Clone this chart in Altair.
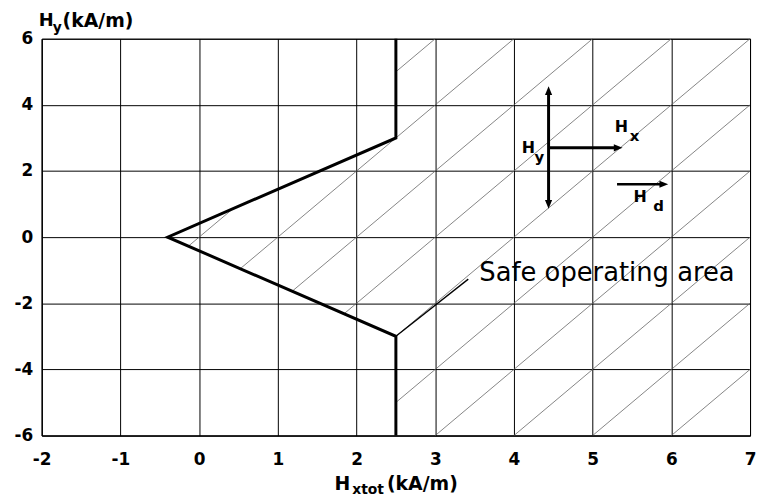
import altair as alt
import numpy as np
import pandas as pd

# ---- data ----
bound_x = [2.5, 2.5, -0.4, 2.5, 2.5]      # boundary of the safe operating area
bound_y = [6, 3, 0, -3, -6]

x_ticks = [-2, -1, 0, 1, 2, 3, 4, 5, 6, 7]
y_ticks = [-6, -4, -2, 0, 2, 4, 6]

# leader line of the "Safe operating area" label
leader_x = [2.5, 3.42]
leader_y = [-3.0, -1.27]

# arrow shafts
shaft_x1 = [4.44, 4.44, 5.31]
shaft_y1 = [1.08, 2.7, 1.6]
shaft_x2 = [4.44, 5.29, 5.87]
shaft_y2 = [4.34, 2.7, 1.6]
shaft_w = [3, 3, 2.5]

# arrow heads (tip positions)
head_x = [4.44, 4.44, 5.38, 5.96]
head_y = [4.56, 0.86, 2.7, 1.6]
head_dir = ["up", "down", "right", "right"]

# annotation texts
ann_text = ["H", "x", "H", "y", "H", "d", "Safe operating area"]
ann_x = [5.28, 5.47, 4.1, 4.26, 5.52, 5.77, 3.56]
ann_y = [3.33, 3.05, 2.7, 2.42, 1.2, 0.95, -1.1]
ann_size = [16, 15, 16, 15, 16, 15, 26]
ann_weight = ["bold", "bold", "bold", "bold", "bold", "bold", "normal"]

# ---- hatch lines (slope 2 through grid intersections), clipped to region right of boundary ----
by_asc = bound_y[::-1]
bx_asc = bound_x[::-1]
yy = np.linspace(-6, 6, 12001)
bnd = np.interp(yy, by_asc, bx_asc)
segs = []
for c in range(-4, 12):
    xx = c + yy / 2.0
    m = (xx >= bnd) & (xx >= -2) & (xx <= 7)
    idx = np.where(m)[0]
    if len(idx) == 0:
        continue
    breaks = np.where(np.diff(idx) > 1)[0]
    starts = np.concatenate([[idx[0]], idx[breaks + 1]])
    ends = np.concatenate([idx[breaks], [idx[-1]]])
    for s, e in zip(starts, ends):
        if e > s:
            segs.append({"x": xx[s], "y": yy[s], "x2": xx[e], "y2": yy[e]})
hatch_df = pd.DataFrame(segs)

bound_df = pd.DataFrame({"x": bound_x, "y": bound_y, "o": list(range(len(bound_x)))})
leader_df = pd.DataFrame({"x": [leader_x[0]], "y": [leader_y[0]], "x2": [leader_x[1]], "y2": [leader_y[1]]})
shaft_df = pd.DataFrame({"x": shaft_x1, "y": shaft_y1, "x2": shaft_x2, "y2": shaft_y2, "w": shaft_w})
head_df = pd.DataFrame({"x": head_x, "y": head_y, "dir": head_dir})
ann_df = pd.DataFrame({"t": ann_text, "x": ann_x, "y": ann_y, "s": ann_size, "w": ann_weight})

FONT = "DejaVu Sans"
xsc = alt.Scale(domain=[-2, 7], nice=False, zero=False)
ysc = alt.Scale(domain=[-6, 6], nice=False, zero=False)
axis_style = dict(grid=True, ticks=False, labelFont=FONT, labelFontSize=17, labelFontWeight="bold",
                  labelColor="black", domainColor="black", domainWidth=1, gridColor="black",
                  gridOpacity=1, gridWidth=1, labelExpr="'' + datum.value", labelFlush=False)
xaxis = alt.Axis(values=x_ticks, title=None, labelPadding=16, **axis_style)
yaxis = alt.Axis(values=y_ticks, title=None, labelPadding=9, **axis_style)

X = alt.X("x:Q", scale=xsc, axis=xaxis)
Y = alt.Y("y:Q", scale=ysc, axis=yaxis)

hatch = alt.Chart(hatch_df).mark_rule(color="#666666", strokeWidth=0.8).encode(
    x=X, y=Y, x2="x2:Q", y2="y2:Q")

boundary = alt.Chart(bound_df).mark_line(color="black", strokeWidth=3, strokeJoin="miter").encode(
    x=X, y=Y, order="o:Q")

leader = alt.Chart(leader_df).mark_rule(color="black", strokeWidth=1.3).encode(
    x=X, y=Y, x2="x2:Q", y2="y2:Q")

shafts = alt.Chart(shaft_df).mark_rule(color="black", strokeCap="butt").encode(
    x=X, y=Y, x2="x2:Q", y2="y2:Q", strokeWidth=alt.StrokeWidth("w:Q", scale=None, legend=None))

heads = alt.Chart(head_df).mark_point(filled=True, color="black", opacity=1, size=256).encode(
    x=X, y=Y,
    shape=alt.Shape("dir:N", legend=None, scale=alt.Scale(
        domain=["up", "down", "right"],
        range=["M0,0L-0.45,1.1L0.45,1.1Z", "M0,0L-0.45,-1.1L0.45,-1.1Z", "M0,0L-1.1,-0.45L-1.1,0.45Z"])))

ann_bold = alt.Chart(ann_df[ann_df["w"] == "bold"]).mark_text(
    align="left", baseline="middle", font=FONT, fontWeight="bold", color="black").encode(
    x=X, y=Y, text="t:N", size=alt.Size("s:Q", scale=None, legend=None))
ann_norm = alt.Chart(ann_df[ann_df["w"] == "normal"]).mark_text(
    align="left", baseline="middle", font=FONT, fontWeight="normal", color="black").encode(
    x=X, y=Y, text="t:N", size=alt.Size("s:Q", scale=None, legend=None))

# axis titles with subscripts (pixel positions relative to plot area)
title_text = ["H", "y", "(kA/m)", "H", "xtot", "(kA/m)"]
title_px = [-3, 11, 21, 295, 313, 348]
title_py = [-18, -11, -18, 449, 455, 449]
title_sz = [18, 14, 19, 19, 14, 19]
titles = []
for t, px, py, sz in zip(title_text, title_px, title_py, title_sz):
    titles.append(alt.Chart(pd.DataFrame({"t": [t]})).mark_text(
        align="left", baseline="middle", font=FONT, fontWeight="bold", fontSize=sz, color="black").encode(
        x=alt.value(px), y=alt.value(py), text="t:N"))

chart = alt.layer(hatch, boundary, leader, shafts, heads, ann_bold, ann_norm, *titles).properties(
    width=714, height=400,
    background="white",
    autosize=alt.AutoSizeParams(type="none"),
    padding={"left": 34, "top": 29, "right": 6, "bottom": 62},
).configure_view(stroke="black", strokeWidth=1)

chart.save("out.html", embed_options={"renderer": "svg", "actions": False})
